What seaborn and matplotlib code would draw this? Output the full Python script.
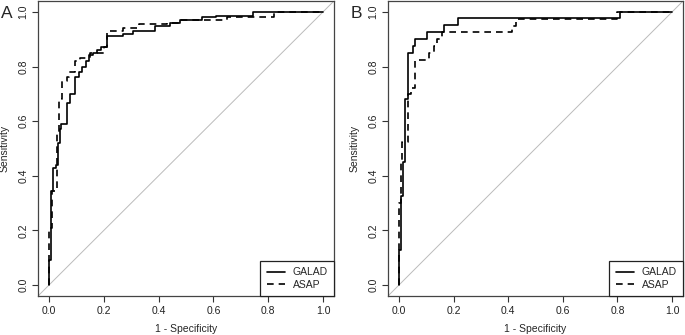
"""
ROC curves for GALAD and ASAP, two panels (A and B) in R base-graphics style
"""

import pandas as pd
import matplotlib.pyplot as plt
import seaborn as sns

# Panel A - ROC corner points (1 - specificity, sensitivity)
a_galad_fpr = [0.0, 0.0, 0.006, 0.016, 0.025, 0.034, 0.04, 0.045, 0.065, 0.077, 0.095, 0.11, 0.12,
               0.135, 0.146, 0.16, 0.175, 0.19, 0.21, 0.27, 0.307, 0.387, 0.44, 0.478, 0.56, 0.61,
               0.745, 1.0]
a_galad_tpr = [0.0, 0.09, 0.345, 0.43, 0.44, 0.52, 0.57, 0.59, 0.667, 0.70, 0.76, 0.78, 0.80,
               0.82, 0.842, 0.85, 0.86, 0.87, 0.912, 0.92, 0.93, 0.949, 0.96, 0.97, 0.98, 0.986,
               1.0, 1.0]
a_asap_fpr = [0.0, 0.0, 0.012, 0.03, 0.038, 0.046, 0.065, 0.073, 0.095, 0.113, 0.15,
              0.2, 0.21, 0.27, 0.33, 0.43, 0.48, 0.65, 0.82, 1.0]
a_asap_tpr = [0.0, 0.21, 0.345, 0.56, 0.68, 0.747, 0.76, 0.78, 0.82, 0.83, 0.85,
              0.87, 0.93, 0.94, 0.956, 0.96, 0.97, 0.98, 1.0, 1.0]

# Panel B
b_galad_fpr = [0.0, 0.0, 0.007, 0.016, 0.022, 0.032, 0.05, 0.058, 0.102, 0.165, 0.217, 0.808, 1.0]
b_galad_tpr = [0.0, 0.128, 0.326, 0.45, 0.68, 0.85, 0.875, 0.90, 0.925, 0.952, 0.977, 1.0, 1.0]
b_asap_fpr = [0.0, 0.0, 0.007, 0.013, 0.032, 0.046, 0.058, 0.11, 0.129, 0.141, 0.156, 0.415, 0.43,
              0.80, 1.0]
b_asap_tpr = [0.0, 0.30, 0.45, 0.525, 0.70, 0.72, 0.824, 0.85, 0.875, 0.90, 0.925, 0.95, 0.975,
              1.0, 1.0]

panels = [
    ('A', a_galad_fpr, a_galad_tpr, a_asap_fpr, a_asap_tpr),
    ('B', b_galad_fpr, b_galad_tpr, b_asap_fpr, b_asap_tpr),
]

sns.set_style('white')
plt.rcParams['font.family'] = ['Liberation Sans', 'DejaVu Sans']

fig = plt.figure(figsize=(6.85, 3.35), dpi=100)
axes_pos = [[0.0555, 0.1164, 0.432, 0.8806], [0.5664, 0.1164, 0.4307, 0.8806]]

for pos, (letter, gx, gy, sx, sy) in zip(axes_pos, panels):
    ax = fig.add_axes(pos)

    # chance line across the whole plot region
    ax.axline((0, 0), (1, 1), color='#bbbbbb', lw=0.7, zorder=1)

    galad = pd.DataFrame({'fpr': gx, 'tpr': gy})
    asap = pd.DataFrame({'fpr': sx, 'tpr': sy})
    sns.lineplot(data=galad, x='fpr', y='tpr', sort=False, estimator=None, ax=ax,
                 color='black', lw=1.2, drawstyle='steps-post', label='GALAD')
    sns.lineplot(data=asap, x='fpr', y='tpr', sort=False, estimator=None, ax=ax,
                 color='black', lw=1.2, drawstyle='steps-post', linestyle=(0, (4, 3)),
                 label='ASAP')

    ax.set_xlim(-0.04, 1.04)
    ax.set_ylim(-0.04, 1.04)
    ticks = [0.0, 0.2, 0.4, 0.6, 0.8, 1.0]
    ax.set_xticks(ticks)
    ax.set_yticks(ticks)
    ax.set_xticklabels(['%.1f' % t for t in ticks], fontsize=7.5, color='#222222')
    ax.set_yticklabels(['%.1f' % t for t in ticks], fontsize=7.5, color='#222222',
                       rotation=90, va='center')
    ax.tick_params(direction='out', length=4, width=0.8, color='#333333', pad=3,
                   bottom=True, left=True)
    for s in ax.spines.values():
        s.set_color('#444444')
        s.set_linewidth(0.9)

    ax.set_xlabel('1 - Specificity', fontsize=7.5, labelpad=6)
    ax.set_ylabel('Sensitivity', fontsize=7.5, labelpad=6)

    leg = ax.legend(loc='lower right', fontsize=7.5, frameon=True, fancybox=False,
                    framealpha=1, edgecolor='#222222', borderaxespad=0, handlelength=1.8,
                    handletextpad=0.7, borderpad=0.6, labelspacing=0.25)
    leg.get_frame().set_linewidth(0.9)

    # panel letter, left of the y axis
    fig.text(pos[0] - 0.0545, 0.961, letter, fontsize=12.5, ha='left', va='center')

plt.savefig('out.png', dpi=100)
